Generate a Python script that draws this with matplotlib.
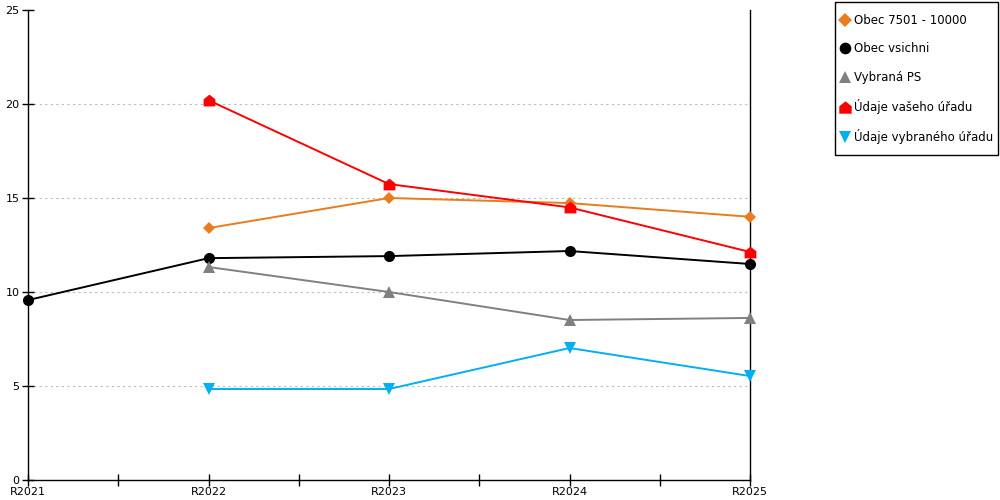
import matplotlib.pyplot as plt
import numpy as np
from matplotlib.path import Path
from matplotlib.patches import Rectangle

plt.rcParams['font.family'] = ['DejaVu Sans']

roky = ['R2021', 'R2022', 'R2023', 'R2024', 'R2025']
obec_7501 = [np.nan, 13.4, 15.0, 14.73, 14.0]
obec_vsichni = [9.57, 11.8, 11.91, 12.18, 11.49]
vybrana_ps = [np.nan, 11.33, 10.0, 8.51, 8.62]
vas_urad = [np.nan, 20.2, 15.74, 14.5, 12.13]
vybrany_urad = [np.nan, 4.84, 4.84, 7.02, 5.53]

# domecek (ctverec se strechou)
domek = Path([(-1, -1), (1, -1), (1, 0.2), (0, 1), (-1, 0.2), (-1, -1)],
             [Path.MOVETO, Path.LINETO, Path.LINETO, Path.LINETO, Path.LINETO, Path.CLOSEPOLY])

fig = plt.figure(figsize=(10, 5), dpi=100)
ax = fig.add_axes([0.028, 0.04, 0.722, 0.94])

x = np.arange(len(roky))
serie = [
    (obec_7501, '#e87c1e', 'D', 6.5, 'Obec 7501 - 10000'),
    (obec_vsichni, '#000000', 'o', 8, 'Obec vsichni'),
    (vybrana_ps, '#808080', '^', 8, 'Vybraná PS'),
    (vas_urad, '#ff0000', domek, 8.5, 'Údaje vašeho úřadu'),
    (vybrany_urad, '#00b0f0', 'v', 8, 'Údaje vybraného úřadu'),
]
for hodnoty, barva, znacka, vel, popis in serie:
    ax.plot(x, hodnoty, color=barva, marker=znacka, markersize=vel, lw=1.4,
            markeredgewidth=0, label=popis, clip_on=False, zorder=3)

ax.set_xlim(0, 4)
ax.set_ylim(0, 25)
ax.set_xticks(x)
ax.set_xticklabels(roky)
ax.set_xticks([0.5, 1.5, 2.5, 3.5], minor=True)
ax.set_yticks([0, 5, 10, 15, 20, 25])
ax.tick_params(axis='both', which='both', direction='inout', length=8, width=1,
               labelsize=8, pad=1)
ax.tick_params(axis='y', pad=2)
for y in [5, 10, 15, 20]:
    ax.axhline(y, color='#bbbbbb', lw=0.8, ls=(0, (2, 3)), zorder=1)
ax.spines['top'].set_visible(False)
for s in ['left', 'bottom', 'right']:
    ax.spines[s].set_linewidth(1)

# ramecek legendy kreslim zvlast
fig.patches.append(Rectangle((0.835, 0.69), 0.163, 0.306, transform=fig.transFigure,
                             facecolor='white', edgecolor='black', lw=1, zorder=0))
leg = fig.legend(loc='upper left', bbox_to_anchor=(0.840, 0.972), fontsize=8.5,
                 frameon=False, labelspacing=1.3, handlelength=0.8,
                 handletextpad=0.42, borderpad=0, borderaxespad=0, markerscale=1.05)
for h in leg.legend_handles:
    h.set_linestyle('none')

fig.savefig('out.png', dpi=100)
